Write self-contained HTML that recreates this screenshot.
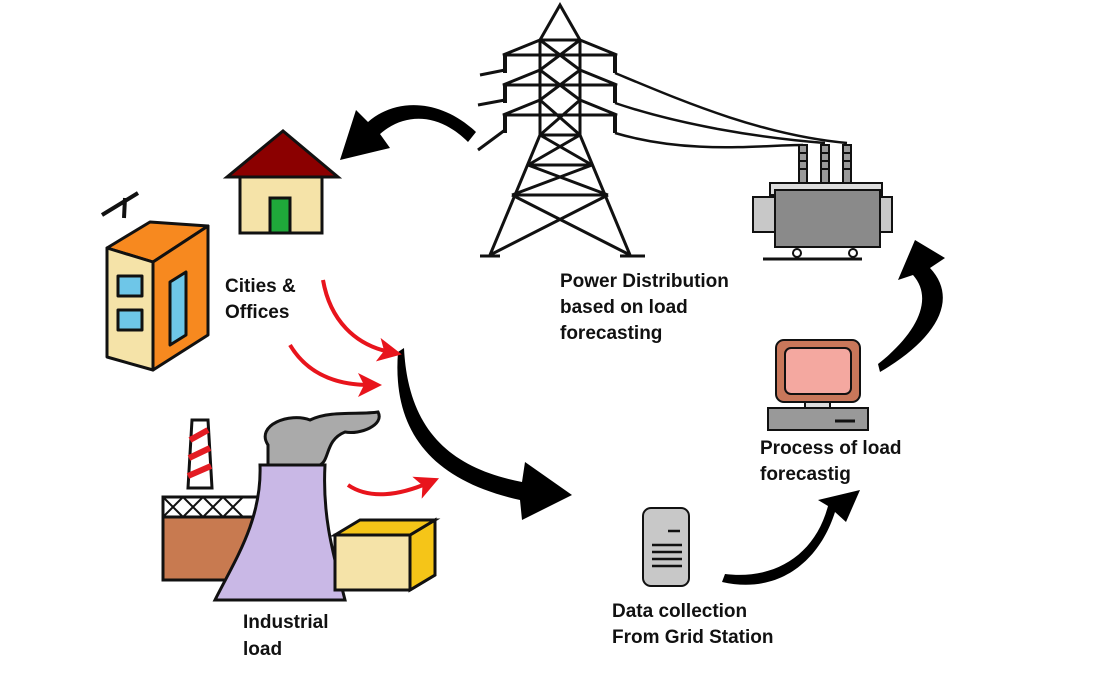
<!DOCTYPE html>
<html><head><style>body{margin:0;background:#fff}svg{display:block}text{font-family:"Liberation Sans",sans-serif;font-weight:bold;font-size:19px;fill:#111}</style></head>
<body>
<svg width="1096" height="684" viewBox="0 0 1096 684" xmlns="http://www.w3.org/2000/svg">
<defs>
<marker id="rh" markerWidth="6" markerHeight="6" refX="3" refY="3" orient="auto" markerUnits="strokeWidth"><path d="M0,0 L6,3 L0,6 L1.5,3Z" fill="#e8141c"/></marker>
</defs>
<!-- tower -->
<g stroke="#111" stroke-width="3" fill="none">
<path d="M560,5 L540,40 L580,40 Z"/>
<path d="M540,40 L540,135 M580,40 L580,135"/>
<path d="M540,40 L580,70 M580,40 L540,70 M540,70 L580,100 M580,70 L540,100 M540,100 L580,135 M580,100 L540,135"/>
<path d="M540,40 L503,55 L617,55 L580,40 M540,70 L503,85 L617,85 L580,70 M540,100 L503,115 L617,115 L580,100"/>
<path d="M540,135 L490,255 M580,135 L630,255 M540,135 L580,135 M528,165 L592,165 M512,195 L608,195"/>
<path d="M540,135 L592,165 M580,135 L528,165 M528,165 L608,195 M592,165 L512,195 M512,195 L630,255 M608,195 L490,255"/>
<path d="M480,256 L500,256 M620,256 L645,256"/>
<path d="M505,55 v18 M505,85 v18 M505,115 v18 M615,55 v18 M615,85 v18 M615,115 v18" stroke-width="4"/>
<path d="M480,75 L505,70 M478,105 L505,100 M478,150 L505,130"/>
<path d="M615,73 C680,100 760,135 847,143 M615,103 C680,125 760,138 825,143 M615,133 C690,155 760,145 803,145" stroke-width="2.5"/>
</g>
<!-- transformer -->
<g stroke="#111" stroke-width="2">
<rect x="753" y="197" width="22" height="35" fill="#c8c8c8"/>
<rect x="880" y="197" width="12" height="35" fill="#c8c8c8"/>
<rect x="770" y="183" width="112" height="12" fill="#ddd"/>
<rect x="775" y="190" width="105" height="57" fill="#8a8a8a"/>
<g fill="#fff"><circle cx="797" cy="253" r="4"/><circle cx="853" cy="253" r="4"/></g>
<path d="M763,259 L862,259" stroke-width="3"/>
<g fill="#999"><rect x="799" y="145" width="8" height="38"/><rect x="821" y="145" width="8" height="38"/><rect x="843" y="145" width="8" height="38"/></g>
<path d="M799,153h8M799,161h8M799,169h8M821,153h8M821,161h8M821,169h8M843,153h8M843,161h8M843,169h8"/>
</g>
<!-- house -->
<g stroke="#111" stroke-width="3">
<rect x="240" y="177" width="82" height="56" fill="#f5e3a8"/>
<rect x="270" y="198" width="20" height="35" fill="#1fa83a"/>
<path d="M227,177 L283,131 L338,177 Z" fill="#8b0000"/>
</g>
<!-- building -->
<g stroke="#111" stroke-width="3" stroke-linejoin="round">
<path d="M107,248 L150,222 L208,226 L153,262 Z" fill="#f7891f"/>
<path d="M153,262 L208,226 L208,335 L153,370 Z" fill="#f7891f"/>
<path d="M107,248 L153,262 L153,370 L107,357 Z" fill="#f5e3a8"/>
<path d="M170,282 L186,272 L186,335 L170,345 Z" fill="#6ec6e8"/>
<rect x="118" y="276" width="24" height="20" fill="#6ec6e8"/>
<rect x="118" y="310" width="24" height="20" fill="#6ec6e8"/>
<path d="M124,218 L125,198 M102,215 L138,193" stroke-width="4"/>
</g>
<!-- factory -->
<g stroke="#111" stroke-width="3">
<rect x="163" y="517" width="100" height="63" fill="#c87a50"/>
<rect x="163" y="497" width="100" height="20" fill="#fff"/>
<path d="M163,497 L183,517 M183,497 L163,517 M183,497 L203,517 M203,497 L183,517 M203,497 L223,517 M223,497 L203,517 M223,497 L243,517 M243,497 L223,517" stroke-width="2"/>
<path d="M192,420 L208,420 L212,488 L188,488 Z" fill="#fff"/>
<path d="M190,440 L208,430 M189,458 L210,448 M188,476 L211,466" stroke="#e31c23" stroke-width="6"/>
<path d="M268,445 C255,425 290,412 310,420 C330,410 360,415 378,412 C385,425 360,435 345,432 C325,440 330,460 320,465 L268,465 Z" fill="#aaa"/>
<path d="M260,465 L325,465 C322,520 335,560 345,600 L215,600 C235,560 262,520 260,465 Z" fill="#c9b8e6"/>
<path d="M335,535 L410,520 L435,520 L435,575 L410,590 L335,590 Z" fill="#f5e3a8"/>
<path d="M410,535 L435,520 L435,575 L410,590 Z" fill="#f5c518"/>
<path d="M335,535 L360,520 L435,520 L410,535 Z" fill="#f5c518"/>
<path d="M410,535 L410,590"/>
</g>
<!-- computer -->
<g stroke="#111" stroke-width="2">
<rect x="776" y="340" width="84" height="62" rx="8" fill="#c8775a"/>
<rect x="785" y="348" width="66" height="46" rx="6" fill="#f4a8a0"/>
<rect x="805" y="402" width="25" height="6" fill="#ddd"/>
<rect x="768" y="408" width="100" height="22" fill="#999"/>
<path d="M835,421h20" stroke-width="3"/>
</g>
<!-- server -->
<g stroke="#111" stroke-width="2">
<rect x="643" y="508" width="46" height="78" rx="8" fill="#c8c8c8"/>
<path d="M668,531h12M652,545h30M652,552h30M652,559h30M652,566h30" stroke-width="2.5"/>
</g>
<!-- black arrows -->
<g fill="#000">
<path d="M398,352 C392,430 430,480 520,500 L522,520 L572,495 L525,462 L522,482 C450,468 408,430 404,348 Z"/>
<path d="M476,132 C440,98 395,98 368,122 L356,110 L340,160 L390,148 L380,134 C404,113 438,112 468,142 Z"/>
<path d="M880,372 C935,340 960,300 930,268 L945,258 L915,240 L898,280 L913,275 C935,300 915,335 878,364 Z"/>
<path d="M722,582 C780,595 820,560 835,512 L846,522 L860,490 L818,500 L828,506 C815,555 775,580 725,574 Z"/>
</g>
<!-- red arrows -->
<g stroke="#e8141c" stroke-width="4" fill="none">
<path d="M323,280 C330,320 355,345 390,352" marker-end="url(#rh)"/>
<path d="M290,345 C305,370 330,385 370,385" marker-end="url(#rh)"/>
<path d="M348,485 C370,500 400,495 428,483" marker-end="url(#rh)"/>
</g>
<text x="225" y="292">Cities &amp;</text><text x="225" y="318">Offices</text>
<text x="560" y="287">Power Distribution</text><text x="560" y="313">based on load</text><text x="560" y="339">forecasting</text>
<text x="760" y="454">Process of load</text><text x="760" y="480">forecastig</text>
<text x="612" y="617">Data collection</text><text x="612" y="643">From Grid Station</text>
<text x="243" y="628">Industrial</text><text x="243" y="655">load</text>
</svg>
</body></html>
